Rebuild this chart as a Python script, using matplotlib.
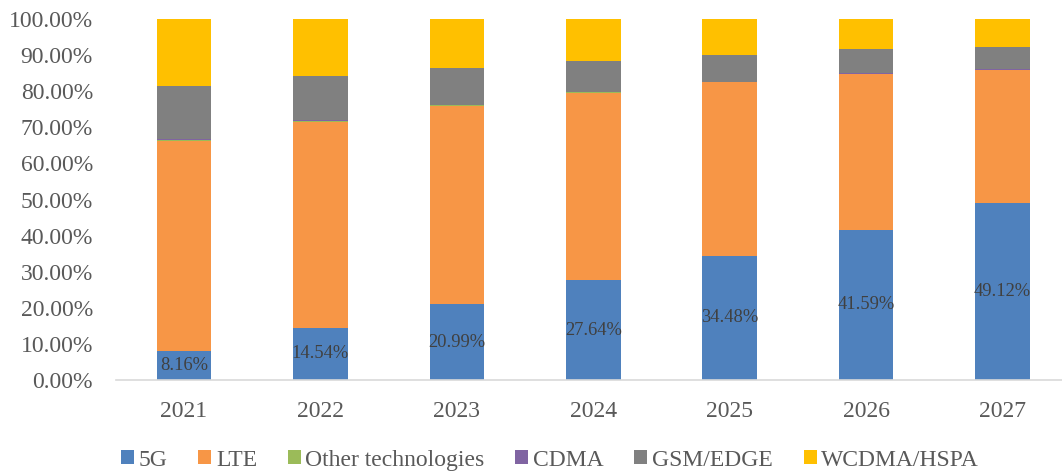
import matplotlib
matplotlib.use("Agg")
import matplotlib.pyplot as plt
from matplotlib.patches import Patch
import numpy as np

years = ["2021", "2022", "2023", "2024", "2025", "2026", "2027"]
g5 = [8.16, 14.54, 20.99, 27.64, 34.48, 41.59, 49.12]
lte = [58.0, 56.9, 54.9, 51.9, 48.0, 43.2, 36.8]
other = [0.30, 0.25, 0.20, 0.15, 0.12, 0.10, 0.08]
cdma = [0.25, 0.20, 0.15, 0.10, 0.08, 0.05, 0.03]
gsm = [14.7, 12.3, 10.16, 8.61, 7.32, 6.76, 6.17]
wcdma = [18.59, 15.81, 13.6, 11.6, 10.0, 8.3, 7.8]

series_names = ["5G", "LTE", "Other technologies", "CDMA", "GSM/EDGE", "WCDMA/HSPA"]
series_vals = [g5, lte, other, cdma, gsm, wcdma]
colors = ["#4F81BD", "#F79646", "#9BBB59", "#8064A2", "#808080", "#FFC000"]

plt.rcParams['font.family'] = ['Liberation Serif', 'DejaVu Serif']

W, H = 1062, 473
fig = plt.figure(figsize=(W / 100, H / 100), dpi=100)
left_px, right_px = 115.8, 1070.7
bot_px, top_px = 380, 19
ax = fig.add_axes([left_px / W, (H - bot_px) / H, (right_px - left_px) / W, (bot_px - top_px) / H])

x = np.arange(len(years))
bottom = np.zeros(len(years))
for name, vals, c in zip(series_names, series_vals, colors):
    v = np.array(vals)
    ax.bar(x, v, width=0.40, bottom=bottom, color=c, label=name, zorder=2)
    bottom += v

for xi, v in zip(x, g5):
    ax.text(xi, v / 2, f"{v:.2f}%", ha="center", va="center", fontsize=13.3, color="#404040", zorder=3)

ax.set_xlim(-0.5, 6.5)
ax.set_ylim(0, 100)
ax.set_yticks(np.arange(0, 101, 10))
ax.set_yticklabels([f"{t:.2f}%" for t in np.arange(0, 101, 10)])
ax.set_xticks(x)
ax.set_xticklabels(years)
ax.tick_params(axis="both", length=0, labelsize=17, colors="#595959")
ax.tick_params(axis="y", pad=16.5)
ax.tick_params(axis="x", pad=15)
for s in ["top", "right", "left"]:
    ax.spines[s].set_visible(False)
ax.spines["bottom"].set_color("#D9D9D9")
ax.spines["bottom"].set_linewidth(1.2)

handles = [Patch(facecolor=c, edgecolor="none") for c in colors]
leg = fig.legend(handles, series_names, loc="center", bbox_to_anchor=(550 / W, (H - 460) / H), ncol=6,
                 frameon=False, fontsize=17, handlelength=0.55, handleheight=0.55,
                 handletextpad=0.2, columnspacing=1.3, labelcolor="#595959",
                 borderpad=0, borderaxespad=0)

fig.savefig("out.png", dpi=100)
